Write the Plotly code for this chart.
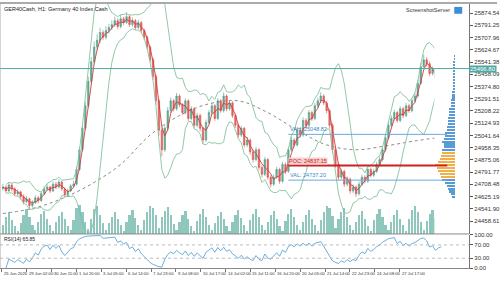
import plotly.graph_objects as go
import pandas as pd

# ---------------- data ----------------
title_text = "GER40Cash, H1: Germany 40 Index Cash"

opens = [24680,24690,24664,24704,24677,24644,24657,
 24624,24590,24610,24564,24584,24617,
 24597,24644,24677,24690,24664,24710,
 24690,24724,24677,24637,24664,24697,
 24710,24810,24944,25090,25243,25410,
 25543,25643,25690,25743,25710,25756,
 25776,25796,25823,25783,25836,25810,
 25850,25796,25823,25776,25810,25756,
 25710,25643,25557,25443,25277,25077,
 24944,25090,25210,25277,25223,25310,
 25250,25197,25277,25157,25223,25110,
 25177,25090,25010,25130,25197,25243,
 25157,25277,25210,25310,25223,25263,
 25177,25110,25044,25090,24977,25010,
 24930,24877,24944,24824,24777,24877,
 24757,24710,24757,24810,24730,24844,
 24797,24944,25010,24977,25077,25044,
 25144,25110,25197,25157,25243,25277,
 25310,25263,25210,25110,24944,24844,
 24757,24797,24710,24744,24664,24690,
 24644,24710,24757,24730,24810,24770,
 24797,24844,24877,24944,25024,25110,
 25157,25197,25144,25223,25177,25243,
 25210,25277,25310,25397,25510,25557,
 25530,25463,25490,25437,25477]

closes = [24690,24664,24704,24677,24644,24657,24624,
 24590,24610,24564,24584,24617,24597,
 24644,24677,24690,24664,24710,24690,
 24724,24677,24637,24664,24697,24710,
 24810,24944,25090,25243,25410,25543,
 25643,25690,25743,25710,25756,25776,
 25796,25823,25783,25836,25810,25850,
 25796,25823,25776,25810,25756,25710,
 25643,25557,25443,25277,25077,24944,
 25090,25210,25277,25223,25310,25250,
 25197,25277,25157,25223,25110,25177,
 25090,25010,25130,25197,25243,25157,
 25277,25210,25310,25223,25263,25177,
 25110,25044,25090,24977,25010,24930,
 24877,24944,24824,24777,24877,24757,
 24710,24757,24810,24730,24844,24797,
 24944,25010,24977,25077,25044,25144,
 25110,25197,25157,25243,25277,25310,
 25263,25210,25110,24944,24844,24757,
 24797,24710,24744,24664,24690,24644,
 24710,24757,24730,24810,24770,24797,
 24844,24877,24944,25024,25110,25157,
 25197,25144,25223,25177,25243,25210,
 25277,25310,25397,25510,25557,25530,
 25463,25490,25437,25477,25496.8]

highs = [24712,24701,24720,24715,24688,24675,24666,
 24640,24628,24618,24600,24635,24630,
 24660,24695,24712,24700,24728,24725,
 24742,24733,24690,24680,24712,24735,
 24832,24965,25110,25270,25440,25575,
 25680,25730,25775,25760,25785,25800,
 25825,25850,25838,25862,25850,25880,
 25862,25845,25835,25828,25820,25768,
 25722,25655,25570,25460,25290,25095,
 25110,25235,25300,25290,25330,25322,
 25262,25295,25288,25240,25235,25195,
 25190,25100,25150,25215,25262,25255,
 25295,25290,25335,25322,25282,25275,
 25190,25122,25108,25100,25030,25020,
 24945,24962,24955,24838,24895,24888,
 24770,24775,24828,24822,24862,24858,
 24965,25032,25025,25095,25090,25165,
 25158,25215,25210,25262,25298,25335,
 25322,25275,25222,25125,24958,24858,
 24815,24808,24762,24755,24708,24702,
 24728,24775,24770,24828,24822,24815,
 24862,24898,24965,25045,25132,25178,
 25218,25210,25240,25235,25262,25258,
 25295,25332,25420,25535,25590,25575,
 25545,25512,25502,25495,25515]

lows = [24668,24650,24655,24660,24630,24628,24605,
 24572,24580,24540,24550,24575,24580,
 24590,24635,24665,24650,24655,24675,
 24680,24665,24615,24625,24655,24688,
 24700,24800,24930,25075,25230,25395,
 25525,25620,25670,25690,25695,25735,
 25760,25780,25765,25770,25792,25800,
 25780,25782,25760,25765,25740,25690,
 25625,25540,25420,25250,25040,24900,
 24930,25070,25195,25205,25210,25235,
 25180,25185,25140,25145,25090,25095,
 25070,24985,24995,25118,25180,25140,
 25145,25195,25198,25205,25210,25160,
 25092,25025,25030,24960,24962,24910,
 24855,24865,24805,24755,24765,24740,
 24688,24698,24745,24712,24718,24780,
 24785,24930,24960,24965,25028,25032,
 25092,25098,25140,25145,25230,25262,
 25248,25192,25090,24920,24822,24735,
 24742,24690,24695,24645,24650,24622,
 24632,24698,24715,24718,24755,24758,
 24785,24830,24865,24930,25010,25095,
 25142,25128,25132,25160,25165,25195,
 25198,25262,25298,25385,25495,25510,
 25445,25450,25420,25425,25468]

volumes = [30,55,70,45,25,10, 35,60,80,55,30,12, 40,65,75,50,28,10,
 38,58,72,48,26,12, 45,85,95,70,40,15, 50,80,90,60,35,12,
 36,55,70,50,30,10, 40,62,78,52,28,12, 45,70,92,85,60,20,
 55,75,88,60,32,12, 38,60,75,50,26,10, 42,64,80,55,30,12,
 36,58,72,48,25,10, 40,62,76,52,28,11, 44,66,82,56,30,12,
 38,60,74,50,27,10, 42,65,80,54,29,12, 40,62,76,50,28,11,
 45,72,90,85,58,18, 50,70,84,56,30,12, 40,60,74,50,27,10,
 44,66,82,56,30,12, 40,62,76,50,28,11, 48,78,92,70,40,14,
 42,64,78,52,30,18]

slow_ma_bar = [0,10,20,30,40,50,60,70,80,90,100,110,120,130,140,149]
slow_ma_val = [24510,24544,24611,24710,24844,25044,25177,25257,25277,25197,
               25077,24977,24944,24970,25004,25030]

profile_levels = [24620,24640,24660,24680,24700,24720,24740,24760,24780,24800,
 24820,24840,24860,24880,24900,24920,24940,24960,24980,25000,25020,25040,25060,
 25080,25100,25120,25140,25160,25180,25200,25220,25240,25260,25280,25300,25320,
 25340,25360,25380,25400,25420,25440,25460,25480,25500,25520,25540,25560,25580]
profile_volume = [2,3,4,5,6,7,9,10,11,12,13,14,12,11,10,9,9,8,8,9,8,7,7,
 6,6,5,5,5,4,4,4,3,3,3,2,2,2,1.5,1.5,1,1,1,1.5,1.5,1.5,1,1,0.5,0.5]
profile_start_bar = 97
vah, poc, val = 25048.82, 24837.15, 24737.20

price_ticks = [25874.54,25791.25,25707.96,25624.67,25541.38,25458.09,25374.80,
 25291.51,25208.22,25124.93,25041.64,24958.35,24875.06,24791.77,24708.48,
 24625.19,24541.90,24458.61]
rsi_ticks = [100, 70, 30, 0]
time_labels = ["25 Jun 2026","29 Jun 02:00","30 Jun 11:00","1 Jul 20:00",
 "3 Jul 05:00","6 Jul 14:00","7 Jul 23:00","9 Jul 08:00","10 Jul 17:00",
 "14 Jul 02:00","15 Jul 11:00","16 Jul 20:00","20 Jul 05:00","21 Jul 14:00",
 "22 Jul 23:00","24 Jul 08:00","27 Jul 17:00"]
rsi_label = "RSI(14) 65.85"

# ---------------- indicators ----------------
cs = pd.Series(closes, dtype=float)
bb_mid = cs.rolling(8, min_periods=2).mean()
bb_sd = cs.rolling(8, min_periods=2).std(ddof=0)
bb_up = bb_mid + 2.2 * bb_sd
bb_lo = bb_mid - 2.2 * bb_sd
fast_ma = cs.rolling(3, min_periods=1).mean()
d = cs.diff()
gain = d.clip(lower=0).ewm(alpha=1/5, adjust=False).mean()
loss = (-d.clip(upper=0)).ewm(alpha=1/5, adjust=False).mean()
rsi = 100 - 100 / (1 + gain / loss)

n = len(closes)
bars = list(range(n))

# ---------------- layout geometry ----------------
W, H = 500, 281
px_per_bar = 2.96
x0_bar = -3 / px_per_bar
axis_px = 472
x_range = [x0_bar, x0_bar + axis_px / px_per_bar]
xd = [0, axis_px / W]
main_dom = [1 - 236 / H, 1]
rsi_dom = [1 - 271 / H, 1 - 237 / H]
def price_at(ypx):
    return 25874.54 - (ypx - 10.3) * 6.663
y_range = [price_at(236), price_at(0)]

FONT = "Liberation Sans"
fig = go.Figure()

fig.add_trace(go.Bar(x=bars, y=volumes, xaxis="x", yaxis="y4",
                     marker=dict(color="#74b9ad", line=dict(width=0)),
                     width=0.75, opacity=0.8, showlegend=False))

fig.add_trace(go.Scatter(x=slow_ma_bar, y=slow_ma_val, mode="lines",
                         line=dict(color="#8a8a8a", width=1, dash="dot", shape="spline"),
                         showlegend=False))
fig.add_trace(go.Scatter(x=bars, y=bb_up, mode="lines",
                         line=dict(color="#86c29c", width=0.9), showlegend=False))
fig.add_trace(go.Scatter(x=bars, y=bb_lo, mode="lines",
                         line=dict(color="#86c29c", width=0.9), showlegend=False))

fig.add_trace(go.Candlestick(x=bars, open=opens, high=highs, low=lows, close=closes,
                             increasing=dict(line=dict(color="#4f9c89", width=0.6), fillcolor="#6aae9c"),
                             decreasing=dict(line=dict(color="#d9534f", width=0.6), fillcolor="#e06c68"),
                             whiskerwidth=0, showlegend=False))
fig.add_trace(go.Scatter(x=bars, y=fast_ma, mode="lines",
                         line=dict(color="#d23c3c", width=0.9), showlegend=False))

# volume profile
pcolors = ["#f0b04a" if 24760 <= p <= 24920 else "#5b9bd5" for p in profile_levels]
fig.add_trace(go.Bar(x=profile_volume, y=profile_levels, orientation="h",
                     xaxis="x3", yaxis="y", width=14,
                     marker=dict(color=pcolors, line=dict(width=0)), showlegend=False))

# RSI
fig.add_trace(go.Scatter(x=bars, y=rsi, mode="lines", xaxis="x2", yaxis="y3",
                         line=dict(color="#5aa6d6", width=0.9), showlegend=False))

tick_font = dict(family=FONT, size=6, color="#333333")
fig.update_layout(
    width=W, height=H, margin=dict(l=0, r=0, t=0, b=0),
    paper_bgcolor="white", plot_bgcolor="white",
    bargap=0, showlegend=False,
    xaxis=dict(domain=xd, range=x_range, anchor="y", showgrid=False, zeroline=False,
               showticklabels=False, rangeslider=dict(visible=False), fixedrange=True),
    xaxis2=dict(domain=xd, range=x_range, anchor="y3", showgrid=False, zeroline=False,
                showticklabels=False, ticks="outside", ticklen=3, tickcolor="#777",
                tickvals=[x0_bar + (2 + 25 * k) / px_per_bar for k in range(len(time_labels))],
                showline=True, linecolor="#888", linewidth=1),
    xaxis3=dict(domain=[437 / W, 458 / W], range=[15, 0], anchor="y", visible=False),
    yaxis=dict(domain=main_dom, range=y_range, side="right", anchor="x",
               showgrid=False, zeroline=False, tickvals=price_ticks,
               ticktext=[f"{v:.2f}" for v in price_ticks], ticks="outside",
               ticklen=3, tickcolor="#555", tickfont=tick_font,
               showline=True, linecolor="#777", linewidth=1),
    yaxis4=dict(domain=main_dom, range=[0, 95 * 236 / 30], overlaying="y",
                visible=False),
    yaxis3=dict(domain=rsi_dom, range=[0, 100], side="right", anchor="x2",
                showgrid=False, zeroline=False, tickvals=rsi_ticks,
                ticktext=[f"{v:.2f}" for v in rsi_ticks], ticks="outside",
                ticklen=3, tickcolor="#555", tickfont=tick_font,
                showline=True, linecolor="#777", linewidth=1),
)

shapes = []
shapes.append(dict(type="line", xref="paper", yref="y", x0=0, x1=xd[1],
                   y0=closes[-1], y1=closes[-1], line=dict(color="#4fa8a2", width=1)))
for lvl, col, wdt in [(vah, "#6fa8dc", 1), (poc, "#cc2222", 2), (val, "#6fa8dc", 1)]:
    shapes.append(dict(type="line", xref="x", yref="y", x0=profile_start_bar, x1=n + 1,
                       y0=lvl, y1=lvl, line=dict(color=col, width=wdt)))
for lv in (70, 30):
    shapes.append(dict(type="line", xref="paper", yref="y3", x0=0, x1=xd[1], y0=lv, y1=lv,
                       line=dict(color="#bbbbbb", width=1, dash="dot")))
shapes.append(dict(type="line", xref="paper", yref="paper", x0=0, x1=xd[1],
                   y0=main_dom[0], y1=main_dom[0], line=dict(color="#888", width=1)))
shapes.append(dict(type="line", xref="paper", yref="paper", x0=0, x1=1,
                   y0=1, y1=1, line=dict(color="#aaaaaa", width=2)))
shapes.append(dict(type="line", xref="paper", yref="paper", x0=0, x1=0,
                   y0=rsi_dom[0], y1=1, line=dict(color="#aaaaaa", width=1)))
shapes.append(dict(type="rect", xref="paper", yref="paper", x0=457 / W, x1=465 / W,
                   y0=1 - 11 / H, y1=1 - 4 / H, fillcolor="#3b8fd9", line=dict(width=0)))
fig.update_layout(shapes=shapes)

ann = []
ann.append(dict(text=title_text, xref="paper", yref="paper", x=2 / W, y=1 - 6 / H,
                xanchor="left", yanchor="middle", showarrow=False,
                font=dict(family=FONT, size=5.5, color="#222")))
ann.append(dict(text="ScreenshotServer", xref="paper", yref="paper", x=455 / W, y=1 - 7.5 / H,
                xanchor="right", yanchor="middle", showarrow=False,
                font=dict(family=FONT, size=5.5, color="#333")))
ann.append(dict(text=f"{closes[-1]:.2f}", xref="paper", yref="y", x=xd[1], y=closes[-1],
                xanchor="left", yanchor="middle", showarrow=False, bgcolor="#4fa8a2",
                borderpad=0, font=dict(family=FONT, size=6, color="white")))
ann.append(dict(text=f"VAH: {vah:.2f}", xref="x", yref="y", x=profile_start_bar, y=vah,
                xanchor="left", yanchor="bottom", showarrow=False,
                font=dict(family=FONT, size=5.5, color="#3d85c6")))
ann.append(dict(text=f"POC: {poc:.2f}", xref="x", yref="y", x=profile_start_bar, y=poc,
                xanchor="left", yanchor="bottom", showarrow=False, bgcolor="#f6d0d0",
                borderpad=0, font=dict(family=FONT, size=5.5, color="#cc2222")))
ann.append(dict(text=f"VAL: {val:.2f}", xref="x", yref="y", x=profile_start_bar, y=val,
                xanchor="left", yanchor="bottom", showarrow=False,
                font=dict(family=FONT, size=5.5, color="#3d85c6")))
ann.append(dict(text=rsi_label, xref="paper", yref="paper", x=2 / W, y=1 - 241 / H,
                xanchor="left", yanchor="middle", showarrow=False,
                font=dict(family=FONT, size=5, color="#222")))
for k, lab in enumerate(time_labels):
    ann.append(dict(text=lab, xref="x2", yref="paper",
                    x=x0_bar + (2 + 25 * k) / px_per_bar, y=1 - 276.5 / H,
                    xanchor="left", yanchor="middle", showarrow=False,
                    font=dict(family=FONT, size=4.2, color="#333")))
fig.update_layout(annotations=ann)

fig.write_html("out.html")
